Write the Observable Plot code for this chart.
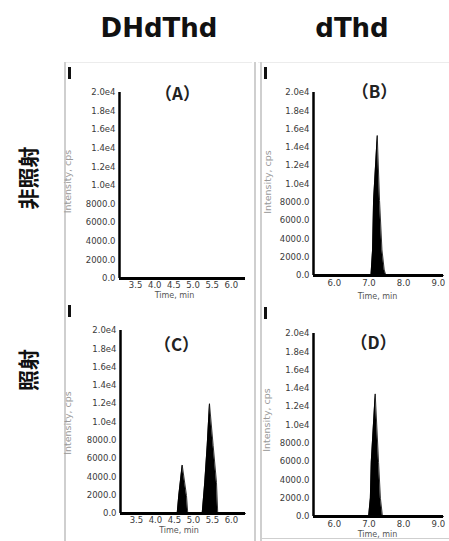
<!DOCTYPE html>
<html>
<head>
<meta charset="utf-8">
<script src="https://cdn.jsdelivr.net/npm/d3@7"></script>
<script src="https://cdn.jsdelivr.net/npm/@observablehq/plot@0.6"></script>
<style>
  html, body { margin: 0; padding: 0; background: #fff; }
  #root { position: relative; width: 449px; height: 541px; overflow: hidden; background: #fff; }
  .abs { position: absolute; }
  .hdr { font-family: "DejaVu Sans", sans-serif; font-weight: bold; font-size: 26px; color: #111; transform: translate(-50%, -50%); white-space: nowrap; }
  .row { font-family: "Noto Sans CJK JP", sans-serif; font-weight: bold; font-size: 21px; color: #111; transform: translate(-50%, -50%) rotate(-90deg); white-space: nowrap; }
  .vline { background: #cfcfcf; width: 2px; }
  .hline { background: #ececec; height: 1px; }
  .mark { background: #111; width: 3px; height: 12px; }
</style>
</head>
<body>
<div id="root"></div>
<script>
// ---- data ----
const columnTitles = ["DHdThd", "dThd"];
const rowTitles = ["非照射", "照射"];
const panelTitles = ["（A）", "（B）", "（C）", "（D）"];

const yTicks = [0, 2000, 4000, 6000, 8000, 10000, 12000, 14000, 16000, 18000, 20000];
const yTickLabels = ["0.0", "2000.0", "4000.0", "6000.0", "8000.0", "1.0e4", "1.2e4", "1.4e4", "1.6e4", "1.8e4", "2.0e4"];
const xTicksDHdThd = [3.5, 4.0, 4.5, 5.0, 5.5, 6.0];
const xTicksdThd = [6.0, 7.0, 8.0, 9.0];
const xDomainDHdThd = [3.08, 6.37];
const xDomaindThd = [5.4, 9.15];

// (A) DHdThd, non-irradiated: no peak
const timeA = [];
const intA = [];
// (B) dThd, non-irradiated
const timeB = [5.40, 7.058, 7.104, 7.133, 7.239, 7.305, 7.375, 7.44, 7.49, 9.15];
const intB  = [0,    0,     2800,  8200,  15300, 8200,  2800,  600,  0,    0];
// (C) DHdThd, irradiated
const timeC = [3.08, 4.572, 4.614, 4.704, 4.817, 4.851, 5.23, 5.298, 5.362, 5.422, 5.519, 5.606, 5.64, 6.37];
const intC  = [0,    0,     1970,  5300,  1970,  0,     0,    3420,  7430,  12000, 7430,  3420,  0,    0];
// (D) dThd, irradiated
const timeD = [5.40, 6.99, 7.04, 7.066, 7.18, 7.277, 7.33, 7.39, 9.15];
const intD  = [0,    0,    2000, 5930,  13400, 5930, 2000, 0,    0];

// ---- layout helpers ----
const root = document.getElementById("root");
function addDiv(cls, style, text) {
  const d = document.createElement("div");
  d.className = "abs " + cls;
  Object.assign(d.style, style);
  if (text) d.textContent = text;
  root.appendChild(d);
  return d;
}

// panel frames / decorations
addDiv("hline", {left: "64px", top: "62px", width: "188px"});
addDiv("hline", {left: "258px", top: "62px", width: "191px"});
addDiv("vline", {left: "64px", top: "62px", height: "479px"});
addDiv("vline", {left: "254px", top: "62px", height: "479px"});
addDiv("vline", {left: "260px", top: "62px", height: "479px"});
addDiv("hline", {left: "260px", top: "538px", width: "189px", background: "#cfcfcf"});
addDiv("mark", {left: "68px", top: "67px"});
addDiv("mark", {left: "264px", top: "67px"});
addDiv("mark", {left: "68px", top: "305px"});
addDiv("mark", {left: "264px", top: "307px"});

addDiv("hdr", {left: "159px", top: "28px"}, columnTitles[0]);
addDiv("hdr", {left: "352px", top: "28px"}, columnTitles[1]);
addDiv("row", {left: "27px", top: "178px"}, rowTitles[0]);
addDiv("row", {left: "27px", top: "370px"}, rowTitles[1]);

function panel(o) {
  const data = o.times.map((t, i) => ({t, v: o.values[i]}));
  const p = Plot.plot({
    width: o.width, height: o.height,
    marginLeft: o.ml, marginRight: o.mr, marginTop: o.mt, marginBottom: o.mb,
    style: {fontFamily: "DejaVu Sans", fontSize: "8.5px", color: "#3a3a3a", background: "transparent", overflow: "visible"},
    x: {domain: o.xDomain, ticks: o.xTicks, tickFormat: d3.format(".1f"), tickSize: 0, tickPadding: o.xPad, label: null},
    y: {domain: [0, 20000], ticks: yTicks, tickFormat: d => yTickLabels[yTicks.indexOf(d)], tickSize: 0, tickPadding: 4, label: null},
    marks: [
      Plot.areaY(data, {x: "t", y: "v", fill: "#000", curve: "linear"}),
      Plot.line(data, {x: "t", y: "v", stroke: "#000", strokeWidth: 0.8, curve: "linear"}),
      Plot.ruleY([0], {stroke: "#000", strokeWidth: 3}),
      Plot.ruleX([o.xDomain[0]], {stroke: "#000", strokeWidth: 2.5}),
      Plot.text([o.title], {frameAnchor: "top", dx: o.tdx, dy: o.tdy, textAnchor: "middle", lineAnchor: "middle",
        fontFamily: "Noto Sans CJK JP", fontWeight: "bold", fontSize: 17, fill: "#222"}),
      Plot.text(["Intensity, cps"], {frameAnchor: "left", rotate: -90, dx: o.ydx, dy: o.ydy, textAnchor: "middle", lineAnchor: "middle",
        fontSize: 9.5, fill: "#999"}),
      Plot.text(["Time, min"], {frameAnchor: "bottom", dx: o.xdx, dy: o.xdy, textAnchor: "middle", lineAnchor: "middle",
        fontSize: 8, fill: "#555"})
    ]
  });
  p.style.position = "absolute";
  p.style.left = o.left + "px";
  p.style.top = o.top + "px";
  root.appendChild(p);
}

panel({times: timeA, values: intA, xDomain: xDomainDHdThd, xTicks: xTicksDHdThd, title: panelTitles[0],
  left: 60, top: 60, width: 190, height: 240, ml: 59, mr: 5, mt: 32, mb: 22, xPad: 3,
  tdx: -5, tdy: 2.5, ydx: -52, ydy: -4, xdx: -8, xdy: 17});
panel({times: timeB, values: intB, xDomain: xDomaindThd, xTicks: xTicksdThd, title: panelTitles[1],
  left: 250, top: 60, width: 199, height: 240, ml: 63, mr: 6, mt: 32, mb: 25, xPad: 4,
  tdx: -4, tdy: 0, ydx: -46, ydy: -2, xdx: -1, xdy: 21});
panel({times: timeC, values: intC, xDomain: xDomainDHdThd, xTicks: xTicksDHdThd, title: panelTitles[2],
  left: 60, top: 295, width: 190, height: 246, ml: 60, mr: 5, mt: 35, mb: 28, xPad: 3,
  tdx: -6.5, tdy: 15, ydx: -53, ydy: 1, xdx: -4, xdy: 17});
panel({times: timeD, values: intD, xDomain: xDomaindThd, xTicks: xTicksdThd, title: panelTitles[3],
  left: 250, top: 295, width: 199, height: 246, ml: 63, mr: 6, mt: 38, mb: 25, xPad: 4,
  tdx: -5, tdy: 10, ydx: -47, ydy: -5, xdx: -1, xdy: 18});
</script>
</body>
</html>
